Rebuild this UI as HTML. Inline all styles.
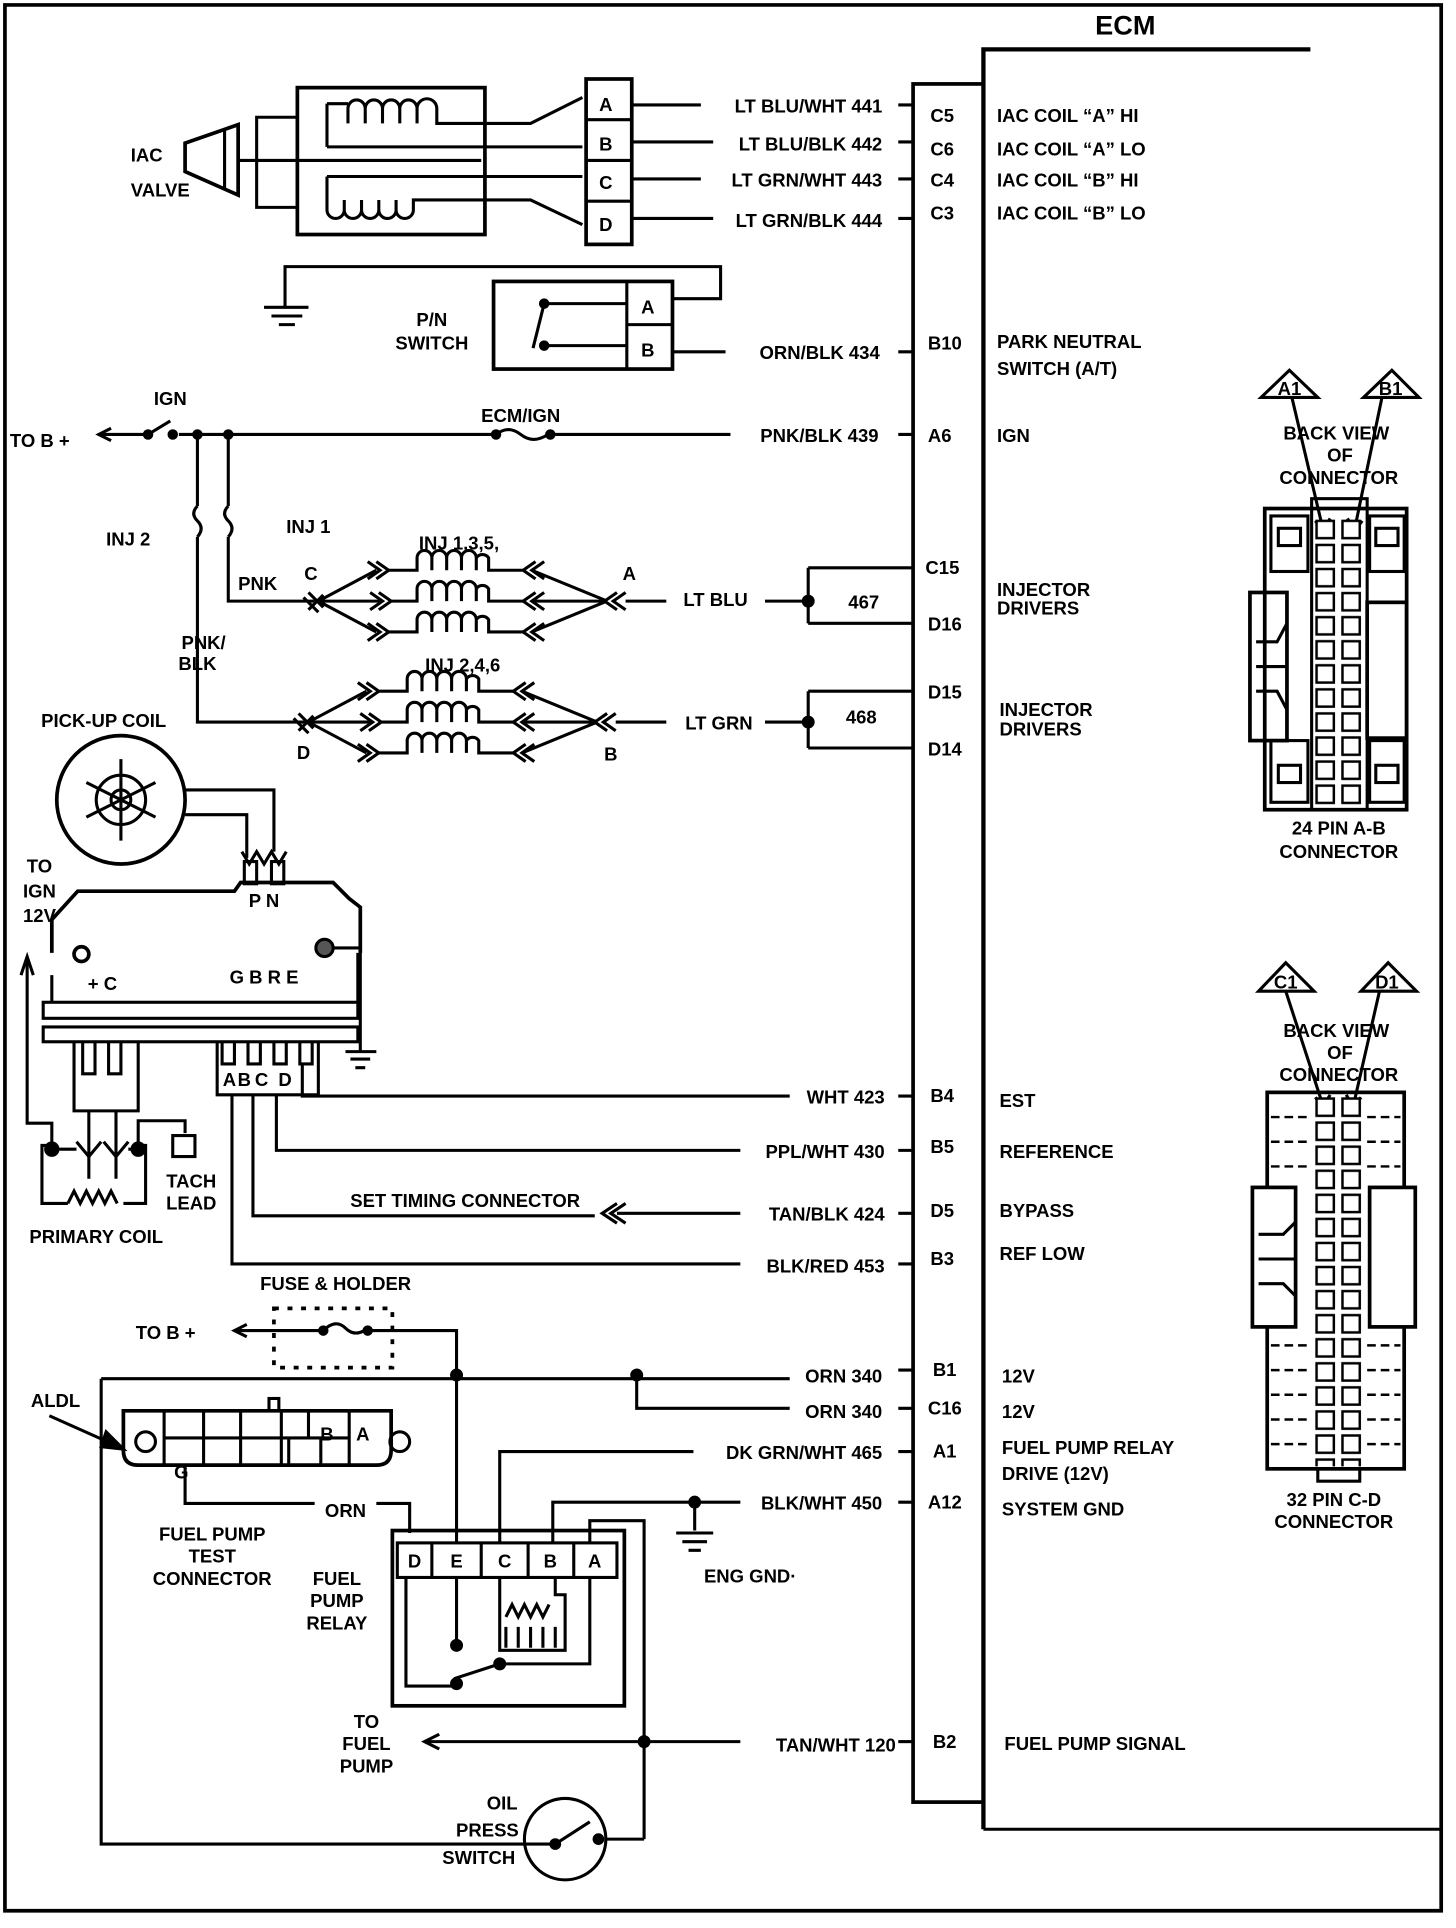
<!DOCTYPE html>
<html><head><meta charset="utf-8"><style>
html,body{margin:0;padding:0;background:#fff}
svg{display:block}
text{font-family:"Liberation Sans",sans-serif;font-weight:bold;font-size:15px;fill:#000}
</style></head><body>
<svg width="1456" height="1928" viewBox="0 0 1180 1562" preserveAspectRatio="none" xmlns="http://www.w3.org/2000/svg">
<defs>
<pattern id="pins" x="1065" y="420" width="21" height="19.5" patternUnits="userSpaceOnUse">
<rect x="2" y="2" width="14" height="14" fill="#fff" stroke="#000" stroke-width="2"/>
</pattern>
</defs>
<g fill="none" stroke="#000" stroke-width="2.5">
<path d="M4 4 H1168 V1548 H4 Z" stroke-width="3"/>
<path d="M797 1482 V40 H1062" stroke-width="3.5"/>
<path d="M797 1482 H1168"/>
<rect x="740" y="68" width="57" height="1392" stroke-width="3"/>

<path d="M150 116 L193 101 V158 L150 139 Z" stroke-width="3"/>
<path d="M182 105 V154"/>
<path d="M193 130 H390"/>
<path d="M241 95 H208 V168 H241"/>
<rect x="241" y="71" width="152" height="119" stroke-width="3"/>
<path d="M265 119 V84 M265 84 H282 M282 100 V88 a7 7 0 0 1 14 0 V100 M296 88 a7 7 0 0 1 14 0 V100 M310 88 a7 7 0 0 1 14 0 V100 M324 88 a7 7 0 0 1 14 0 V100 M338 88 a8 8 0 0 1 16 0 V100 H430 L472 79"/>
<path d="M265 119 H472"/>
<path d="M265 143 H472"/>
<path d="M265 143 V170 a7 7 0 0 0 14 0 V162 M279 170 a7 7 0 0 0 14 0 V162 M293 170 a7 7 0 0 0 14 0 V162 M307 170 a7 7 0 0 0 14 0 V162 M321 170 a7 7 0 0 0 14 0 V162 H430 L472 182"/>
<rect x="475" y="64" width="37" height="134" stroke-width="3"/>
<path d="M475 97 H512 M475 130 H512 M475 163 H512"/>
<path d="M512 85 H568 M512 115 H578 M512 145 H568 M512 177 H578"/>
<path d="M728 85 H740 M728 115 H740 M728 145 H740 M728 177 H740"/>

<path d="M231 248 V216 H584 V242 H545"/>
<path d="M214 249 H250 M220 256 H245 M226 263 H239"/>
<rect x="400" y="228" width="145" height="71" stroke-width="3"/>
<path d="M508 228 V299 M508 263 H545"/>
<path d="M440 246 H508 M440 280 H508 M441 246 L432 282"/>
<circle cx="441" cy="246" r="3" fill="#000"/><circle cx="441" cy="280" r="3" fill="#000"/>
<path d="M545 285 H588 M728 285 H740"/>

<path d="M82 352 H118 M145 352 H400 M450 352 H592 M728 352 H740"/>
<path d="M90 347 L80 352 L90 357"/>
<path d="M120 352 L138 341"/>
<circle cx="120" cy="352" r="3" fill="#000"/><circle cx="140" cy="352" r="3" fill="#000"/>
<circle cx="160" cy="352" r="3" fill="#000"/><circle cx="185" cy="352" r="3" fill="#000"/>
<path d="M402 352 q10 -8 20 0 q10 8 22 0"/>
<circle cx="402" cy="352" r="3" fill="#000"/><circle cx="446" cy="352" r="3" fill="#000"/>
<path d="M160 352 V410 M160 435 V585 H248"/>
<path d="M160 410 q-6 6 0 12 q6 6 0 13"/>
<path d="M185 352 V410 M185 435 V487 H255"/>
<path d="M185 410 q-6 6 0 12 q6 6 0 13"/>

<g id="inj">
<path d="M258 487 L305 462 M258 487 H308 M258 487 L305 512"/>
<path d="M250 480 L262 492 M246 484 L258 496 M250 494 L262 482"/>
<path d="M298 455 L308 462 L298 469 M305 455 L315 462 L305 469 M300 480 L310 487 L300 494 M307 480 L317 487 L307 494 M298 505 L308 512 L298 519 M305 505 L315 512 L305 519"/>
<path d="M315 462 H338 V452 a6 6 0 0 1 12 0 V462 M350 452 a6 6 0 0 1 12 0 V462 M362 452 a6 6 0 0 1 12 0 V462 M374 452 a6 6 0 0 1 12 0 V462 M386 452 a6 6 0 0 1 10 0 V462 H424"/>
<path d="M317 487 H338 V477 a6 6 0 0 1 12 0 V487 M350 477 a6 6 0 0 1 12 0 V487 M362 477 a6 6 0 0 1 12 0 V487 M374 477 a6 6 0 0 1 12 0 V487 M386 477 a6 6 0 0 1 10 0 V487 H424"/>
<path d="M315 512 H338 V502 a6 6 0 0 1 12 0 V512 M350 502 a6 6 0 0 1 12 0 V512 M362 502 a6 6 0 0 1 12 0 V512 M374 502 a6 6 0 0 1 12 0 V512 M386 502 a6 6 0 0 1 10 0 V512 H424"/>
<path d="M434 455 L424 462 L434 469 M441 455 L431 462 L441 469 M434 480 L424 487 L434 494 M441 480 L431 487 L441 494 M434 505 L424 512 L434 519 M441 505 L431 512 L441 519"/>
<path d="M431 462 L492 487 M431 487 H492 M431 512 L492 487"/>
<path d="M500 480 L490 487 L500 494 M507 480 L497 487 L507 494"/>
</g>
<use href="#inj" transform="translate(-8 98)"/>
<path d="M507 487 H540 M620 487 H655" />
<path d="M499 585 H540 M620 585 H655"/>
<path d="M655 460 H740 M655 505 H740 M655 460 V505"/>
<path d="M655 560 H740 M655 606 H740 M655 560 V606"/>
<circle cx="655" cy="487" r="4" fill="#000"/><circle cx="655" cy="585" r="4" fill="#000"/>

<circle cx="98" cy="648" r="52" stroke-width="3"/>
<circle cx="98" cy="648" r="20"/>
<circle cx="98" cy="648" r="8"/>
<path d="M98 615 V681 M70 634 L126 662 M70 662 L126 634"/>
<path d="M150 640 H222 V690 M150 660 H200 V695"/>
<path d="M196 690 L202 700 L208 690 L214 700 L220 690 L226 700 L232 690" />
<path d="M42 772 V745 L63 722 H190 L195 715 H270 L283 728 L292 735 V772" stroke-width="3"/>
<rect x="198" y="698" width="10" height="18"/>
<rect x="220" y="698" width="10" height="18"/>
<circle cx="66" cy="773" r="6" stroke-width="3"/>
<circle cx="263" cy="768" r="7" fill="#555"/>
<path d="M270 768 H292 V852"/>
<path d="M280 852 H305 M284 858 H300 M288 865 H296"/>
<rect x="35" y="812" width="255" height="13"/>
<rect x="35" y="832" width="255" height="12"/>
<path d="M42 812 V790 M290 812 V772"/>
<path d="M60 844 V900 H112 V844 M67 844 V870 H77 V844 M88 844 V870 H98 V844"/>
<path d="M176 844 V887 H258 V844 M180 844 V862 H190 V844 M201 844 V862 H211 V844 M222 844 V862 H232 V844 M243 844 V862 H253 V844"/>
<path d="M72 900 V955 M94 900 V955"/>
<path d="M22 778 V910 H42 V928"/>
<path d="M17 790 L22 775 L27 790"/>
<path d="M42 928 H34 V975 H55 M100 975 H118 V928 H112 V908 H150 V918"/>
<path d="M55 975 l5 -10 l5 10 l5 -10 l5 10 l5 -10 l5 10 l5 -10 l5 10"/>
<circle cx="42" cy="931" r="5" fill="#000"/><circle cx="112" cy="931" r="5" fill="#000"/>
<path d="M62 925 L72 937 L82 925 M84 925 L94 937 L104 925 M48 931 H62 M104 931 H108"/>
<rect x="140" y="920" width="18" height="17"/>
<path d="M245 862 V888 H640 M728 888 H740"/>
<path d="M224 887 V932 H600 M728 932 H740"/>
<path d="M205 887 V985 H482 M728 983 H740"/>
<path d="M500 975 L488 983 L500 991 M507 975 L495 983 L507 991 M500 983 H600"/>
<path d="M188 887 V1024 H600 M728 1024 H740"/>

<path d="M190 1078 H262 M298 1078 H370 V1115"/>
<path d="M200 1073 L190 1078 L200 1083"/>
<path d="M262 1078 q10 -10 18 -2 q8 8 18 0"/>
<circle cx="262" cy="1078" r="3" fill="#000"/><circle cx="298" cy="1078" r="3" fill="#000"/>
<path d="M222 1060 H318 V1108 H222 Z" stroke-dasharray="4 7" stroke-width="3"/>
<path d="M82 1117 H640 M728 1110 H740"/>
<circle cx="370" cy="1114" r="4" fill="#000"/><circle cx="516" cy="1114" r="4" fill="#000"/>
<path d="M516 1114 V1141 H640 M728 1141 H740"/>
<path d="M82 1117 V1494 H450"/>
<path d="M370 1114 V1250"/>
<path d="M100 1143 H317 V1175 q0 12 -12 12 H112 q-12 0 -12 -12 Z" stroke-width="3"/>
<path d="M133 1143 V1187 M283 1143 V1187 M133 1165 H283 M165 1143 V1187 M195 1143 V1187 M228 1143 V1187 M250 1143 V1165 M260 1165 V1187 M234 1165 V1187"/>
<rect x="218" y="1133" width="8" height="10"/>
<circle cx="118" cy="1168" r="8"/><circle cx="324" cy="1168" r="8"/>
<path d="M40 1147 L96 1172"/>
<path d="M86 1160 L100 1174 L82 1172 Z" fill="#000"/>
<path d="M150 1187 V1218 H255 M305 1218 H332 V1242"/>
<rect x="318" y="1240" width="188" height="142" stroke-width="3"/>
<rect x="322" y="1250" width="178" height="28" stroke-width="2.5"/>
<path d="M350 1250 V1278 M390 1250 V1278 M428 1250 V1278 M465 1250 V1278"/>
<path d="M405 1250 V1176 H562 M728 1176 H740"/>
<path d="M448 1250 V1217 H600 M728 1217 H740"/>
<circle cx="563" cy="1217" r="4" fill="#000"/>
<path d="M563 1217 V1240 M548 1242 H578 M553 1249 H573 M558 1256 H568"/>
<path d="M478 1250 V1232 H522 V1490"/>
<path d="M728 1411 H740"/>
<path d="M329 1278 V1366 H370 M370 1278 V1332"/>
<circle cx="370" cy="1333" r="4" fill="#000"/>
<path d="M368 1360 L405 1348 M405 1348 H478 V1278"/>
<circle cx="370" cy="1364" r="4" fill="#000"/><circle cx="405" cy="1348" r="4" fill="#000"/>
<path d="M405 1278 V1337 H458 V1292 H450 V1278"/>
<path d="M410 1310 l5 -10 l5 10 l5 -10 l5 10 l5 -10 l5 10 l5 -10 M410 1335 V1318 M420 1335 V1318 M430 1335 V1318 M440 1335 V1318 M450 1335 V1318"/>
<path d="M345 1411 H600"/>
<path d="M356 1405 L344 1411 L356 1417"/>
<circle cx="522" cy="1411" r="4" fill="#000"/>
<path d="M522 1490 H490"/>
<circle cx="458" cy="1490" r="33"/>
<path d="M450 1494 L478 1476"/>
<circle cx="450" cy="1494" r="3.5" fill="#000"/><circle cx="485" cy="1490" r="3.5" fill="#000"/>

<path d="M1022 322 L1045 300 L1068 322 Z M1105 322 L1128 300 L1150 322 Z"/>
<path d="M1047 322 L1072 428 M1120 322 L1098 428"/>
<path d="M1066 422 L1072 430 L1078 420 M1092 420 L1098 430 L1104 422"/>
<rect x="1025" y="412" width="115" height="244" stroke-width="3"/>
<rect x="1063" y="404" width="45" height="252" stroke-width="2.5"/>
<rect x="1065" y="420" width="42" height="234" fill="url(#pins)" stroke="none"/>
<rect x="1030" y="418" width="30" height="45"/><rect x="1110" y="418" width="28" height="45"/>
<rect x="1036" y="428" width="18" height="14"/><rect x="1115" y="428" width="18" height="14"/>
<rect x="1030" y="600" width="30" height="50"/><rect x="1110" y="600" width="28" height="50"/>
<rect x="1036" y="620" width="18" height="14"/><rect x="1115" y="620" width="18" height="14"/>
<rect x="1013" y="480" width="30" height="120" stroke-width="3"/>
<rect x="1108" y="488" width="32" height="110" stroke-width="3"/>
<path d="M1018 520 H1035 L1043 505 M1018 540 H1030 L1043 540 M1018 560 H1035 L1043 575"/>

<path d="M1020 803 L1042 780 L1065 803 Z M1103 803 L1125 780 L1148 803 Z"/>
<path d="M1042 803 L1072 895 M1118 803 L1097 895"/>
<path d="M1066 889 L1072 897 L1078 887 M1091 887 L1097 897 L1103 889"/>
<rect x="1027" y="885" width="111" height="305" stroke-width="3"/>
<rect x="1065" y="888" width="42" height="300" fill="url(#pins)" stroke="none"/>
<path d="M1030 905 H1063 M1030 925 H1063 M1030 945 H1063 M1108 905 H1135 M1108 925 H1135 M1108 945 H1135 M1030 1090 H1063 M1030 1110 H1063 M1030 1130 H1063 M1030 1150 H1063 M1030 1170 H1063 M1108 1090 H1135 M1108 1110 H1135 M1108 1130 H1135 M1108 1150 H1135 M1108 1170 H1135" stroke-dasharray="7 4" stroke-width="2"/>
<rect x="1015" y="962" width="35" height="113" stroke-width="3" fill="#fff"/>
<rect x="1110" y="962" width="37" height="113" stroke-width="3" fill="#fff"/>
<path d="M1020 1000 H1040 L1050 990 M1020 1020 H1030 L1050 1020 M1020 1040 H1040 L1050 1050"/>
<rect x="1068" y="1190" width="34" height="10"/>
</g>

<text x="912" y="28" text-anchor="middle" style="font-size:22px">ECM</text>
<text x="106" y="131">IAC</text>
<text x="106" y="159">VALVE</text>
<g style="font-size:14px">
<text x="491" y="90" text-anchor="middle">A</text>
<text x="491" y="122" text-anchor="middle">B</text>
<text x="491" y="153" text-anchor="middle">C</text>
<text x="491" y="187" text-anchor="middle">D</text>
<text x="525" y="254" text-anchor="middle">A</text>
<text x="525" y="289" text-anchor="middle">B</text>
</g>
<g text-anchor="end">
<text x="715" y="91">LT BLU/WHT 441</text>
<text x="715" y="122">LT BLU/BLK 442</text>
<text x="715" y="151">LT GRN/WHT 443</text>
<text x="715" y="184">LT GRN/BLK 444</text>
<text x="713" y="291">ORN/BLK 434</text>
<text x="712" y="358">PNK/BLK 439</text>
<text x="606" y="491">LT BLU</text>
<text x="610" y="591">LT GRN</text>
<text x="717" y="894">WHT 423</text>
<text x="717" y="938">PPL/WHT 430</text>
<text x="717" y="989">TAN/BLK 424</text>
<text x="717" y="1031">BLK/RED 453</text>
<text x="715" y="1120">ORN 340</text>
<text x="715" y="1149">ORN 340</text>
<text x="715" y="1182">DK GRN/WHT 465</text>
<text x="715" y="1223">BLK/WHT 450</text>
<text x="726" y="1419">TAN/WHT 120</text>
</g>
<g>
<text x="754" y="99">C5</text><text x="754" y="126">C6</text><text x="754" y="151">C4</text><text x="754" y="178">C3</text>
<text x="752" y="283">B10</text><text x="752" y="358">A6</text>
<text x="750" y="465">C15</text><text x="752" y="511">D16</text>
<text x="752" y="566">D15</text><text x="752" y="612">D14</text>
<text x="754" y="893">B4</text><text x="754" y="934">B5</text><text x="754" y="986">D5</text><text x="754" y="1025">B3</text>
<text x="756" y="1115">B1</text><text x="752" y="1146">C16</text><text x="756" y="1181">A1</text><text x="752" y="1222">A12</text><text x="756" y="1416">B2</text>
</g>
<g>
<text x="808" y="99">IAC COIL “A” HI</text>
<text x="808" y="126">IAC COIL “A” LO</text>
<text x="808" y="151">IAC COIL “B” HI</text>
<text x="808" y="178">IAC COIL “B” LO</text>
<text x="808" y="282">PARK NEUTRAL</text>
<text x="808" y="304">SWITCH (A/T)</text>
<text x="808" y="358">IGN</text>
<text x="808" y="483">INJECTOR</text>
<text x="808" y="498">DRIVERS</text>
<text x="810" y="580">INJECTOR</text>
<text x="810" y="596">DRIVERS</text>
<text x="810" y="897">EST</text>
<text x="810" y="938">REFERENCE</text>
<text x="810" y="986">BYPASS</text>
<text x="810" y="1021">REF LOW</text>
<text x="812" y="1120">12V</text>
<text x="812" y="1149">12V</text>
<text x="812" y="1178">FUEL PUMP RELAY</text>
<text x="812" y="1199">DRIVE (12V)</text>
<text x="812" y="1228">SYSTEM GND</text>
<text x="814" y="1418">FUEL PUMP SIGNAL</text>
</g>
<text x="350" y="264" text-anchor="middle">P/N</text>
<text x="350" y="283" text-anchor="middle">SWITCH</text>
<text x="8" y="362">TO B +</text>
<text x="138" y="328" text-anchor="middle">IGN</text>
<text x="422" y="342" text-anchor="middle">ECM/IGN</text>
<text x="86" y="442">INJ 2</text>
<text x="232" y="432">INJ 1</text>
<text x="193" y="478">PNK</text>
<text x="252" y="470" text-anchor="middle">C</text>
<text x="510" y="470" text-anchor="middle">A</text>
<text x="372" y="445" text-anchor="middle">INJ 1,3,5,</text>
<text x="375" y="544" text-anchor="middle">INJ 2,4,6</text>
<text x="165" y="526" text-anchor="middle">PNK/</text>
<text x="160" y="543" text-anchor="middle">BLK</text>
<text x="246" y="615" text-anchor="middle">D</text>
<text x="495" y="616" text-anchor="middle">B</text>
<text x="700" y="493" text-anchor="middle">467</text>
<text x="698" y="586" text-anchor="middle">468</text>
<text x="84" y="589" text-anchor="middle">PICK-UP COIL</text>
<text x="32" y="707" text-anchor="middle">TO</text>
<text x="32" y="727" text-anchor="middle">IGN</text>
<text x="32" y="747" text-anchor="middle">12V</text>
<text x="214" y="735" text-anchor="middle">P N</text>
<text x="83" y="802" text-anchor="middle">+ C</text>
<text x="214" y="797" text-anchor="middle">G B R E</text>
<g text-anchor="middle" style="font-size:14px">
<text x="186" y="880">A</text><text x="198" y="880">B</text><text x="212" y="880">C</text><text x="231" y="880">D</text>
</g>
<text x="155" y="962" text-anchor="middle">TACH</text>
<text x="155" y="980" text-anchor="middle">LEAD</text>
<text x="78" y="1007" text-anchor="middle">PRIMARY COIL</text>
<text x="377" y="978" text-anchor="middle">SET TIMING CONNECTOR</text>
<text x="272" y="1045" text-anchor="middle">FUSE &amp; HOLDER</text>
<text x="110" y="1085">TO B +</text>
<text x="25" y="1140">ALDL</text>
<text x="265" y="1167" text-anchor="middle">B</text>
<text x="294" y="1167" text-anchor="middle">A</text>
<text x="147" y="1198" text-anchor="middle">G</text>
<text x="280" y="1229" text-anchor="middle">ORN</text>
<text x="172" y="1248" text-anchor="middle">FUEL PUMP</text>
<text x="172" y="1266" text-anchor="middle">TEST</text>
<text x="172" y="1284" text-anchor="middle">CONNECTOR</text>
<text x="273" y="1284" text-anchor="middle">FUEL</text>
<text x="273" y="1302" text-anchor="middle">PUMP</text>
<text x="273" y="1320" text-anchor="middle">RELAY</text>
<g style="font-size:14px">
<text x="336" y="1270" text-anchor="middle">D</text>
<text x="370" y="1270" text-anchor="middle">E</text>
<text x="409" y="1270" text-anchor="middle">C</text>
<text x="446" y="1270" text-anchor="middle">B</text>
<text x="482" y="1270" text-anchor="middle">A</text>
</g>
<text x="608" y="1282" text-anchor="middle">ENG GND·</text>
<text x="297" y="1400" text-anchor="middle">TO</text>
<text x="297" y="1418" text-anchor="middle">FUEL</text>
<text x="297" y="1436" text-anchor="middle">PUMP</text>
<text x="407" y="1466" text-anchor="middle">OIL</text>
<text x="395" y="1488" text-anchor="middle">PRESS</text>
<text x="388" y="1510" text-anchor="middle">SWITCH</text>
<g text-anchor="middle" style="font-size:14px">
<text x="1045" y="320">A1</text><text x="1127" y="320">B1</text>
<text x="1083" y="356">BACK VIEW</text><text x="1086" y="374">OF</text><text x="1085" y="392">CONNECTOR</text>
<text x="1085" y="676">24 PIN  A-B</text><text x="1085" y="695">CONNECTOR</text>
<text x="1042" y="801">C1</text><text x="1124" y="801">D1</text>
<text x="1083" y="840">BACK VIEW</text><text x="1086" y="858">OF</text><text x="1085" y="876">CONNECTOR</text>
<text x="1081" y="1220">32 PIN C-D</text><text x="1081" y="1238">CONNECTOR</text>
</g>
</svg>
</body></html>
